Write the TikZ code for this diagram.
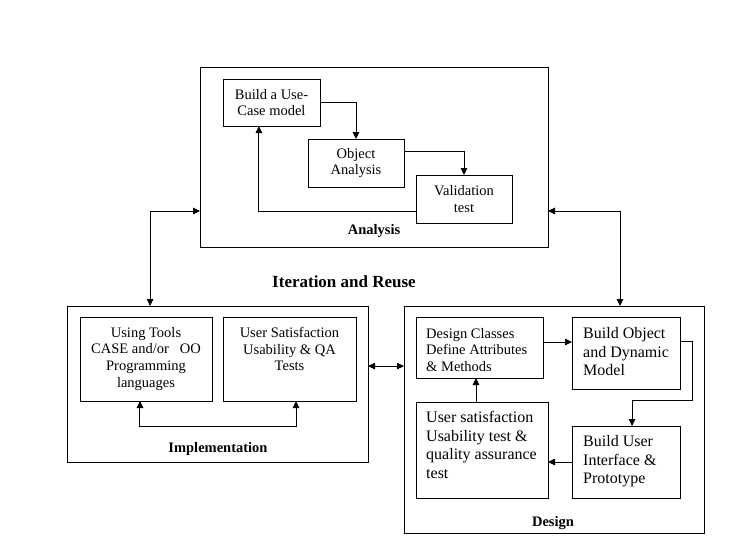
\documentclass[tikz,border=0pt]{standalone}
\usepackage{fontspec}
\setmainfont{Liberation Serif}
\usetikzlibrary{arrows.meta,calc}
\begin{document}
\begin{tikzpicture}[x=1pt,y=-1pt,
  box/.style={draw, line width=1pt, inner sep=0pt, outer sep=0pt},
  arr/.style={draw, line width=1pt, -{Triangle[length=7pt,width=6.5pt]}},
  darr/.style={draw, line width=1pt, {Triangle[length=7pt,width=6.5pt]}-{Triangle[length=7pt,width=6.5pt]}},
  fa/.style={font=\fontsize{14.5}{16.7}\selectfont},
  fb/.style={font=\fontsize{16}{18.4}\selectfont},
  ttl/.style={font=\bfseries\fontsize{14.5}{17}\selectfont, inner sep=0pt},
  txt/.style={inner sep=0pt}]
\useasboundingbox (0,0) rectangle (746,549);
% Analysis
\node[box, minimum width=348pt, minimum height=180pt] (analysis) at (374,157) {};
\node[box, fa, align=center, minimum width=97pt, minimum height=47pt] (build) at (271.5,102.5) {Build a Use-\\Case model};
\node[box, fa, align=center, minimum width=96pt, minimum height=48pt] (object) at (356,163) {Object\\Analysis};
\node[box, fa, align=center, minimum width=96pt, minimum height=48pt] (valid) at (464,199) {Validation\\test};
\node[ttl] (analysislbl) at (374,231) {Analysis};
\draw[arr] (build.east) -| (object.north);
\draw[arr] ($(object.north east)!0.25!(object.south east)$) -| (valid.north);
\draw[arr] ($(valid.north west)!0.75!(valid.south west)$) -| ($(build.south west)!0.37!(build.south east)$);
% title
\node[ttl, font=\bfseries\fontsize{17}{20}\selectfont] (iter) at (344,282) {Iteration and Reuse};
% Implementation
\node[box, minimum width=301pt, minimum height=156pt] (impl) at (217.5,384) {};
\node[box, minimum width=132pt, minimum height=84pt] (using) at (146,359) {};
\node[box, minimum width=133pt, minimum height=84pt] (usat) at (289.5,359) {};
\node[txt, fa, align=center, anchor=north] (usingtxt) at ([yshift=-10pt]using.north) {Using Tools\\CASE and/or\ \ \ OO\\Programming\\languages};
\node[txt, fa, align=center, anchor=north] (usattxt) at ([yshift=-10pt]usat.north) {User Satisfaction\\Usability \& QA\\Tests};
\node[ttl] (impllbl) at (218,449) {Implementation};
\draw[darr] ($(using.south west)!0.4545!(using.south east)$) -- ++(0,25) -| ($(usat.south west)!0.549!(usat.south east)$);
% Design
\node[box, minimum width=300pt, minimum height=227pt] (design) at (554,419.5) {};
\node[box, minimum width=127pt, minimum height=61pt] (dcls) at (479.5,347.5) {};
\node[box, minimum width=108pt, minimum height=72pt] (bobj) at (626,353) {};
\node[box, minimum width=132pt, minimum height=96pt] (usd) at (482,450) {};
\node[box, minimum width=108pt, minimum height=72pt] (bui) at (626,462) {};
\node[txt, fa, align=left, anchor=north west] (dclstxt) at ([xshift=10pt,yshift=-11pt]dcls.north west) {Design Classes\\Define Attributes\\\& Methods};
\node[txt, fb, align=left, anchor=north west] (bobjtxt) at ([xshift=11pt,yshift=-10.5pt]bobj.north west) {Build Object\\and Dynamic\\Model};
\node[txt, fb, align=left, anchor=north west] (usdtxt) at ([xshift=10pt,yshift=-9.5pt]usd.north west) {User satisfaction\\Usability test \&\\quality assurance\\test};
\node[txt, fb, align=left, anchor=north west] (buitxt) at ([xshift=11pt,yshift=-9.5pt]bui.north west) {Build User\\Interface \&\\Prototype};
\node[ttl] (designlbl) at (553,523) {Design};
\draw[arr] ($(dcls.north east)!0.41!(dcls.south east)$) coordinate (n) -- (n -| bobj.west);
\draw[arr] ($(bobj.north east)!0.347!(bobj.south east)$) -- ++(12,0) -- ++(0,59) -| ($(bui.north west)!0.556!(bui.north east)$);
\draw[arr] (bui.west) -- (bui.west -| usd.east);
\draw[arr] ($(usd.north west)!0.4545!(usd.north east)$) coordinate (p) -- (p |- dcls.south);
% connections between phases
\draw[darr] ($(analysis.north west)!0.8!(analysis.south west)$) -| ($(impl.north west)!0.276!(impl.north east)$);
\draw[darr] ($(analysis.north east)!0.8!(analysis.south east)$) -| ($(design.north west)!0.72!(design.north east)$);
\draw[darr] ($(impl.north east)!0.385!(impl.south east)$) coordinate (m) -- (m -| design.west);
\end{tikzpicture}
\end{document}
